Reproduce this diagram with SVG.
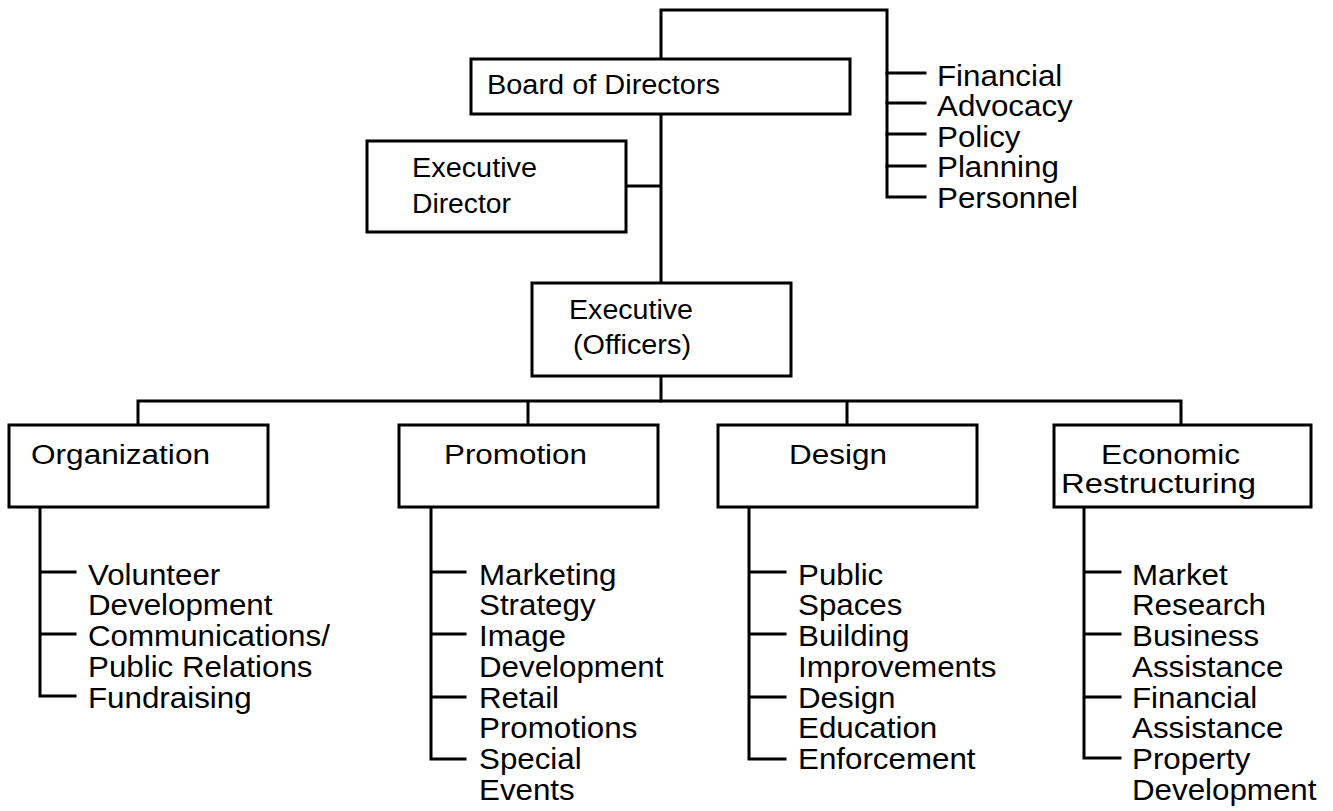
<svg xmlns="http://www.w3.org/2000/svg" width="1333" height="811" viewBox="0 0 1333 811">
<style>
.box{fill:#fff;stroke:#000;stroke-width:3}
.ln{fill:none;stroke:#000;stroke-width:3;stroke-linecap:square}
text{font-family:"Liberation Sans",Arial,sans-serif;fill:#000}
.bt{font-size:27px}
.lt{font-size:29px}
</style>
<rect width="1333" height="811" fill="#fff"/>
<g id="connectors" class="ln">
<path d="M661,59 V10 H887 V197 H925"/>
<path d="M887,73 H925 M887,103 H925 M887,134 H925 M887,166 H925"/>
<path d="M661,114 V283 M626,186 H661 M661,376 V401"/>
<path d="M138,425 V401 H1181 V425 M528,401 V425 M847,401 V425"/>
<path d="M40,507 V696 H75 M40,572 H75 M40,634 H75"/>
<path d="M431,507 V759 H465 M431,572 H465 M431,634 H465 M431,697 H465"/>
<path d="M749,507 V759 H785 M749,572 H785 M749,634 H785 M749,697 H785"/>
<path d="M1084,507 V758 H1120 M1084,572 H1120 M1084,634 H1120 M1084,697 H1120"/>
</g>
<g id="board">
<rect class="box" x="471" y="59" width="379" height="55"/>
<text class="bt" x="487" y="94" textLength="233" lengthAdjust="spacingAndGlyphs" font-size="26">Board of Directors</text>
</g>
<g id="committees" transform="translate(937,0) scale(1.08,1)">
<text class="lt" x="0" y="86">Financial</text>
<text class="lt" x="0" y="116.5">Advocacy</text>
<text class="lt" x="0" y="147">Policy</text>
<text class="lt" x="0" y="177.5">Planning</text>
<text class="lt" x="0" y="208">Personnel</text>
</g>
<g id="exec-director">
<rect class="box" x="367" y="141" width="259" height="91"/>
<text class="bt" x="412" y="177" textLength="125" lengthAdjust="spacingAndGlyphs">Executive</text>
<text class="bt" x="412" y="213" textLength="99" lengthAdjust="spacingAndGlyphs">Director</text>
</g>
<g id="exec-officers">
<rect class="box" x="532" y="283" width="259" height="93"/>
<text class="bt" x="569" y="319" textLength="124" lengthAdjust="spacingAndGlyphs">Executive</text>
<text class="bt" x="573" y="354" textLength="118" lengthAdjust="spacingAndGlyphs">(Officers)</text>
</g>
<g id="organization">
<rect class="box" x="9" y="425" width="259" height="82"/>
<text class="bt" x="31" y="464" font-size="28" textLength="179" lengthAdjust="spacingAndGlyphs">Organization</text>
<g transform="translate(88,0) scale(1.08,1)">
<text class="lt" x="0" y="585">Volunteer</text>
<text class="lt" x="0" y="615.5">Development</text>
<text class="lt" x="0" y="646">Communications/</text>
<text class="lt" x="0" y="677">Public Relations</text>
<text class="lt" x="0" y="708">Fundraising</text>
</g>
</g>
<g id="promotion">
<rect class="box" x="399" y="425" width="259" height="82"/>
<text class="bt" x="444" y="464" font-size="28" textLength="143" lengthAdjust="spacingAndGlyphs">Promotion</text>
<g transform="translate(479,0) scale(1.08,1)">
<text class="lt" x="0" y="585">Marketing</text>
<text class="lt" x="0" y="615.5">Strategy</text>
<text class="lt" x="0" y="646">Image</text>
<text class="lt" x="0" y="677">Development</text>
<text class="lt" x="0" y="708">Retail</text>
<text class="lt" x="0" y="738.5">Promotions</text>
<text class="lt" x="0" y="769">Special</text>
<text class="lt" x="0" y="800">Events</text>
</g>
</g>
<g id="design">
<rect class="box" x="718" y="425" width="259" height="82"/>
<text class="bt" x="789" y="464" font-size="28" textLength="98" lengthAdjust="spacingAndGlyphs">Design</text>
<g transform="translate(798,0) scale(1.08,1)">
<text class="lt" x="0" y="585">Public</text>
<text class="lt" x="0" y="615.5">Spaces</text>
<text class="lt" x="0" y="646">Building</text>
<text class="lt" x="0" y="677">Improvements</text>
<text class="lt" x="0" y="708">Design</text>
<text class="lt" x="0" y="738.5">Education</text>
<text class="lt" x="0" y="769">Enforcement</text>
</g>
</g>
<g id="economic">
<rect class="box" x="1054" y="425" width="257" height="82"/>
<text class="bt" x="1101" y="464" font-size="28" textLength="139" lengthAdjust="spacingAndGlyphs">Economic</text>
<text class="bt" x="1061" y="493" font-size="28" textLength="195" lengthAdjust="spacingAndGlyphs">Restructuring</text>
<g transform="translate(1132,0) scale(1.08,1)">
<text class="lt" x="0" y="585">Market</text>
<text class="lt" x="0" y="615.5">Research</text>
<text class="lt" x="0" y="646">Business</text>
<text class="lt" x="0" y="677">Assistance</text>
<text class="lt" x="0" y="708">Financial</text>
<text class="lt" x="0" y="738.5">Assistance</text>
<text class="lt" x="0" y="769">Property</text>
<text class="lt" x="0" y="800">Development</text>
</g>
</g>
</svg>
